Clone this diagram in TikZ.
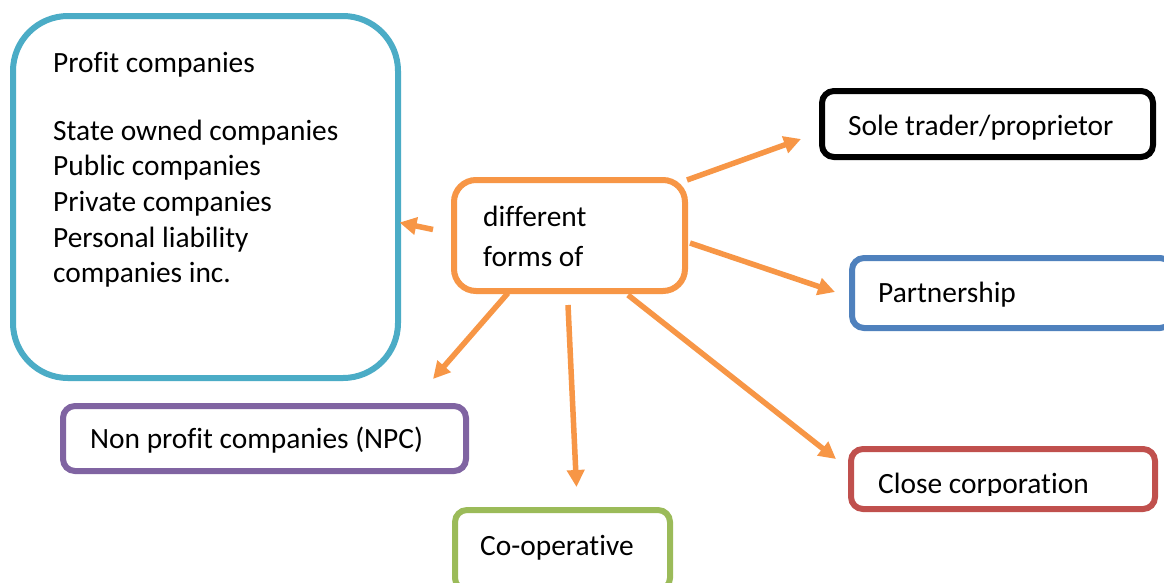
\documentclass[tikz,border=0pt]{standalone}
\usepackage{fontspec}
\setmainfont{Carlito}[Ligatures={NoCommon}]
\usetikzlibrary{arrows.meta}
\definecolor{cteal}{HTML}{4BACC6}
\definecolor{corange}{HTML}{F79646}
\definecolor{cblue}{HTML}{4F81BD}
\definecolor{cpurple}{HTML}{8064A2}
\definecolor{cgreen}{HTML}{9BBB59}
\definecolor{cred}{HTML}{C0504D}
\tikzset{
  boxshape/.style={draw, line width=6pt, fill=white, inner sep=0pt, rectangle},
  txt/.style={anchor=base west, inner sep=0pt, font=\fontsize{29.4}{35}\selectfont, text=black},
  arr/.style={draw=corange, line width=5.5pt, -{Triangle[length=17pt,width=17pt]}}
}
\begin{document}
\begin{tikzpicture}[x=1pt,y=-1pt]
\useasboundingbox (0,0) rectangle (1164,582);
\clip (0,0) rectangle (1164,582);
\fill[white] (0,0) rectangle (1164,582);
% boxes
\node[boxshape, draw=cteal, rounded corners=55pt, minimum width=385pt, minimum height=362pt] (profit) at (205.5,197) {};
\node[boxshape, draw=corange, rounded corners=22pt, minimum width=231pt, minimum height=111pt] (center) at (569.5,235.5) {};
\node[boxshape, draw=black, rounded corners=12pt, minimum width=331pt, minimum height=66pt] (sole) at (987.5,124) {};
\node[boxshape, draw=cblue, rounded corners=12pt, minimum width=320pt, minimum height=70pt] (partner) at (1012,293) {};
\node[boxshape, draw=cpurple, rounded corners=12pt, minimum width=403pt, minimum height=65pt] (npc) at (264.5,438.5) {};
\node[boxshape, draw=cgreen, rounded corners=12pt, minimum width=215pt, minimum height=80pt] (coop) at (562.5,550) {};
\node[boxshape, draw=cred, rounded corners=12pt, minimum width=304pt, minimum height=60pt] (close) at (1003,479) {};
% texts
\node[txt] (t1) at (53,72) {Profit companies};
\node[txt] (t2) at (53,140) {State owned companies};
\node[txt] (t3) at (53,175) {Public companies};
\node[txt] (t4) at (53,211) {Private companies};
\node[txt] (t5) at (53,247) {Personal liability};
\node[txt] (t6) at (53,282) {companies inc.};
\node[txt] (c1) at (483,226) {different};
\node[txt] (c2) at (483,266) {forms of};
\node[txt] (s1) at (848,135) {Sole trader/proprietor};
\node[txt] (p1) at (878,302) {Partnership};
\node[txt] (n1) at (90,448) {Non profit companies (NPC)};
\node[txt] (o1) at (480,555) {Co-operative};
\begin{scope}
\clip (848,440) rectangle (1160,495);
\node[txt] (l1) at (878,493) {Close corporation};
\end{scope}
% connector end points
\coordinate (aProfitS) at (433,229.5);
\coordinate (aProfitE) at (399.5,222.5);
\coordinate (aSoleS) at (687,180);
\coordinate (aSoleE) at (801,139);
\coordinate (aPartS) at (690,243);
\coordinate (aPartE) at (835,292);
\coordinate (aCloseS) at (628,295);
\coordinate (aCloseE) at (836,459);
\coordinate (aCoopS) at (568,305);
\coordinate (aCoopE) at (576.5,487);
\coordinate (aNpcS) at (508,293);
\coordinate (aNpcE) at (433,379);
\draw[arr] (aProfitS) -- (aProfitE);
\draw[arr] (aSoleS) -- (aSoleE);
\draw[arr] (aPartS) -- (aPartE);
\draw[arr] (aCloseS) -- (aCloseE);
\draw[arr] (aCoopS) -- (aCoopE);
\draw[arr] (aNpcS) -- (aNpcE);
\end{tikzpicture}
\end{document}
